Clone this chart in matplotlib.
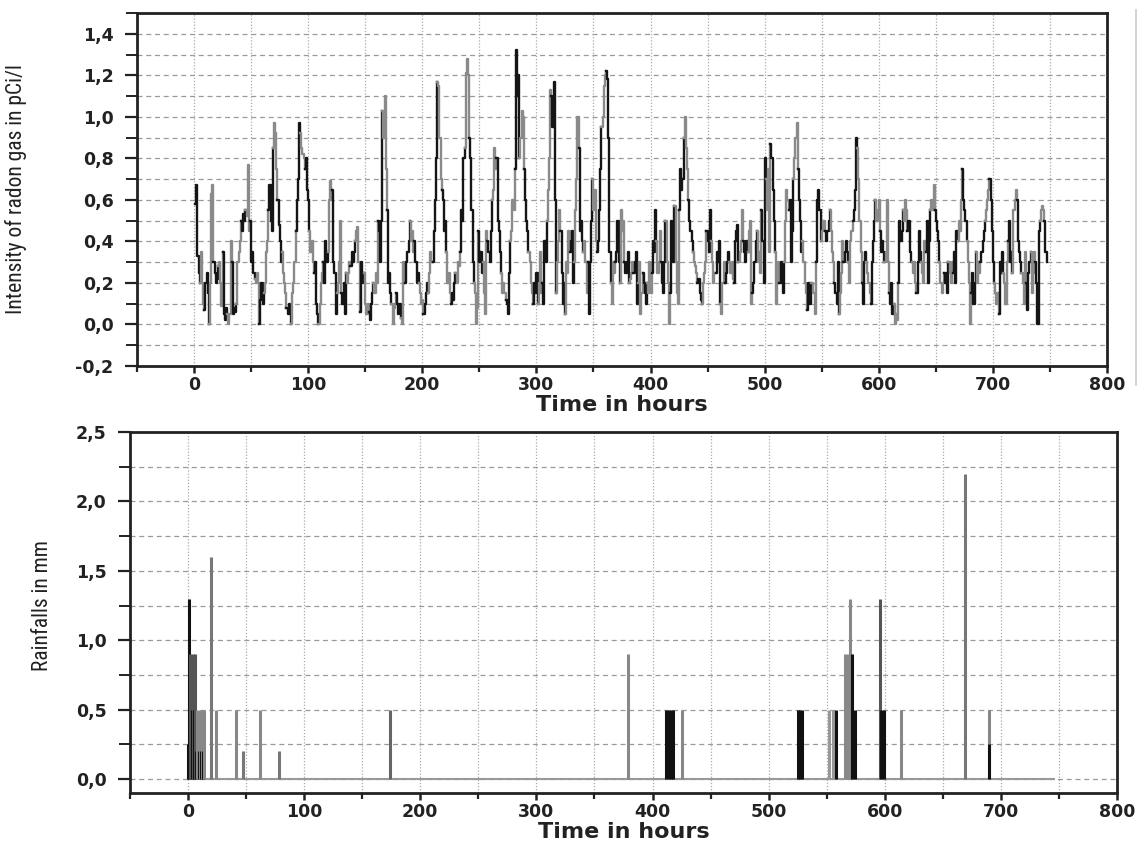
import numpy as np
import matplotlib
matplotlib.use("Agg")
import matplotlib.pyplot as plt
from matplotlib.ticker import MultipleLocator, FuncFormatter
from matplotlib.lines import Line2D

# ---------------- data ----------------
radon_start_hour = 1
radon = [
    0.58, 0.67, 0.33, 0.25, 0.2, 0.35, 0.2, 0.1, 0.07, 0.2,
    0.25, 0.15, 0.0, 0.2, 0.63, 0.67, 0.3, 0.25, 0.2, 0.22,
    0.28, 0.3, 0.2, 0.09, 0.35, 0.05, 0.02, 0.08, 0.05, 0.0,
    0.05, 0.4, 0.3, 0.05, 0.08, 0.06, 0.1, 0.3, 0.35, 0.4,
    0.5, 0.45, 0.53, 0.5, 0.55, 0.52, 0.77, 0.45, 0.5, 0.3,
    0.35, 0.25, 0.22, 0.2, 0.25, 0.2, 0.0, 0.12, 0.2, 0.1,
    0.15, 0.2, 0.35, 0.4, 0.55, 0.67, 0.5, 0.45, 0.85, 0.97,
    0.92, 0.75, 0.6, 0.48, 0.4, 0.3, 0.35, 0.25, 0.2, 0.15,
    0.08, 0.05, 0.1, 0.05, 0.0, 0.15, 0.2, 0.3, 0.45, 0.6,
    0.7, 0.97, 0.92, 0.85, 0.82, 0.8, 0.75, 0.8, 0.65, 0.6,
    0.45, 0.35, 0.4, 0.3, 0.25, 0.3, 0.1, 0.05, 0.0, 0.1,
    0.2, 0.25, 0.3, 0.2, 0.4, 0.3, 0.35, 0.6, 0.69, 0.6,
    0.65, 0.3, 0.25, 0.05, 0.15, 0.2, 0.3, 0.5, 0.15, 0.1,
    0.2, 0.05, 0.25, 0.2, 0.25, 0.3, 0.28, 0.35, 0.3, 0.35,
    0.4, 0.45, 0.47, 0.3, 0.06, 0.3, 0.25, 0.2, 0.25, 0.1,
    0.05, 0.1, 0.06, 0.02, 0.1, 0.15, 0.2, 0.15, 0.25, 0.2,
    0.5, 0.45, 0.3, 0.5, 1.03, 0.9, 1.1, 0.75, 0.55, 0.2,
    0.25, 0.15, 0.1, 0.0, 0.08, 0.1, 0.15, 0.1, 0.05, 0.1,
    0.03, 0.0, 0.3, 0.25, 0.2, 0.3, 0.35, 0.4, 0.5, 0.4,
    0.45, 0.35, 0.4, 0.3, 0.2, 0.25, 0.2, 0.15, 0.1, 0.12,
    0.05, 0.1, 0.15, 0.2, 0.15, 0.25, 0.35, 0.3, 0.3, 0.45,
    0.6, 0.8, 1.17, 1.15, 0.9, 0.7, 0.65, 0.6, 0.45, 0.5,
    0.35, 0.2, 0.25, 0.15, 0.1, 0.15, 0.12, 0.2, 0.25, 0.2,
    0.3, 0.28, 0.35, 0.55, 0.5, 0.8, 0.85, 1.21, 1.28, 1.2,
    0.9, 0.8, 0.55, 0.3, 0.2, 0.15, 0.0, 0.08, 0.45, 0.3,
    0.35, 0.25, 0.3, 0.15, 0.05, 0.45, 0.4, 0.35, 0.3, 0.45,
    0.6, 0.65, 0.85, 0.75, 0.8, 0.5, 0.45, 0.35, 0.25, 0.15,
    0.2, 0.15, 0.12, 0.1, 0.05, 0.25, 0.4, 0.45, 0.6, 0.55,
    0.75, 1.32, 1.1, 1.2, 0.8, 0.9, 1.03, 1.0, 0.75, 0.6,
    0.5, 0.45, 0.35, 0.3, 0.2, 0.15, 0.1, 0.2, 0.15, 0.25,
    0.1, 0.2, 0.35, 0.15, 0.2, 0.1, 0.4, 0.3, 0.5, 0.65,
    0.8, 1.13, 1.1, 0.95, 1.17, 0.6, 0.15, 0.3, 0.4, 0.55,
    0.45, 0.25, 0.1, 0.2, 0.05, 0.3, 0.25, 0.45, 0.35, 0.4,
    0.45, 0.2, 0.3, 0.55, 0.7, 1.0, 0.85, 0.45, 0.5, 0.4,
    0.35, 0.4, 0.3, 0.15, 0.3, 0.05, 0.3, 0.5, 0.7, 0.55,
    0.65, 0.4, 0.35, 0.4, 0.55, 0.75, 0.95, 1.0, 1.15, 1.2,
    1.22, 1.18, 0.9, 0.35, 0.2, 0.1, 0.3, 0.25, 0.3, 0.35,
    0.5, 0.3, 0.2, 0.55, 0.45, 0.5, 0.3, 0.25, 0.3, 0.35,
    0.2, 0.22, 0.25, 0.3, 0.25, 0.3, 0.35, 0.1, 0.2, 0.3,
    0.05, 0.15, 0.25, 0.2, 0.15, 0.1, 0.2, 0.15, 0.3, 0.15,
    0.25, 0.4, 0.35, 0.55, 0.4, 0.25, 0.3, 0.45, 0.3, 0.2,
    0.15, 0.3, 0.5, 0.3, 0.2, 0.0, 0.15, 0.5, 0.4, 0.3,
    0.57, 0.3, 0.15, 0.1, 0.55, 0.75, 0.65, 0.7, 0.9, 1.0,
    0.85, 0.75, 0.6, 0.5, 0.45, 0.4, 0.35, 0.3, 0.28, 0.25,
    0.2, 0.22, 0.15, 0.12, 0.1, 0.2, 0.25, 0.3, 0.45, 0.4,
    0.35, 0.55, 0.4, 0.3, 0.2, 0.25, 0.25, 0.35, 0.3, 0.4,
    0.1, 0.05, 0.2, 0.3, 0.2, 0.25, 0.3, 0.35, 0.3, 0.25,
    0.3, 0.22, 0.2, 0.4, 0.45, 0.48, 0.3, 0.35, 0.4, 0.55,
    0.4, 0.35, 0.3, 0.4, 0.35, 0.45, 0.5, 0.1, 0.15, 0.2,
    0.3, 0.4, 0.45, 0.3, 0.35, 0.25, 0.55, 0.4, 0.2, 0.8,
    0.7, 0.55, 0.75, 0.35, 0.87, 0.8, 0.65, 0.5, 0.35, 0.1,
    0.2, 0.3, 0.2, 0.3, 0.25, 0.15, 0.3, 0.5, 0.65, 0.6,
    0.55, 0.6, 0.3, 0.45, 0.7, 0.8, 0.9, 0.97, 0.75, 0.6,
    0.5, 0.35, 0.4, 0.3, 0.2, 0.15, 0.07, 0.2, 0.15, 0.1,
    0.2, 0.15, 0.15, 0.05, 0.3, 0.6, 0.65, 0.55, 0.4, 0.45,
    0.5, 0.5, 0.45, 0.4, 0.45, 0.5, 0.55, 0.45, 0.35, 0.3,
    0.2, 0.15, 0.1, 0.3, 0.05, 0.15, 0.25, 0.4, 0.3, 0.35,
    0.4, 0.35, 0.3, 0.2, 0.4, 0.45, 0.5, 0.55, 0.65, 0.9,
    0.85, 0.7, 0.5, 0.35, 0.2, 0.1, 0.3, 0.35, 0.3, 0.25,
    0.2, 0.15, 0.1, 0.3, 0.4, 0.5, 0.6, 0.5, 0.55, 0.6,
    0.45, 0.35, 0.4, 0.35, 0.3, 0.35, 0.6, 0.3, 0.15, 0.1,
    0.2, 0.05, 0.1, 0.0, 0.05, 0.02, 0.2, 0.5, 0.4, 0.45,
    0.55, 0.5, 0.6, 0.55, 0.45, 0.5, 0.35, 0.3, 0.3, 0.25,
    0.3, 0.2, 0.15, 0.3, 0.45, 0.35, 0.3, 0.25, 0.2, 0.4,
    0.35, 0.5, 0.2, 0.4, 0.55, 0.6, 0.55, 0.67, 0.55, 0.5,
    0.45, 0.4, 0.3, 0.2, 0.15, 0.2, 0.25, 0.2, 0.25, 0.15,
    0.3, 0.25, 0.2, 0.3, 0.25, 0.35, 0.2, 0.45, 0.4, 0.5,
    0.45, 0.6, 0.75, 0.6, 0.55, 0.5, 0.4, 0.3, 0.2, 0.0,
    0.15, 0.25, 0.1, 0.2, 0.35, 0.2, 0.3, 0.25, 0.3, 0.35,
    0.4, 0.45, 0.5, 0.55, 0.6, 0.65, 0.7, 0.6, 0.45, 0.3,
    0.2, 0.15, 0.1, 0.15, 0.05, 0.3, 0.25, 0.35, 0.25, 0.2,
    0.1, 0.3, 0.4, 0.5, 0.3, 0.35, 0.25, 0.55, 0.6, 0.65,
    0.6, 0.4, 0.35, 0.3, 0.25, 0.2, 0.1, 0.35, 0.2, 0.07,
    0.25, 0.3, 0.35, 0.15, 0.25, 0.35, 0.3, 0.2, 0.0, 0.45,
    0.5, 0.55, 0.57, 0.55, 0.5, 0.35, 0.3,
]

rain_hours = [0, 1, 2, 3, 4, 5, 6, 7, 8, 9, 10, 11, 12, 13, 14,
              20, 24, 41, 47, 62, 78, 174, 379, 412, 414, 416, 418, 425,
              525, 527, 529, 552, 555, 558, 566, 568, 570, 572, 574,
              596, 597, 599, 614, 669, 690, 690]
rain_mm = [0.25, 1.3, 0.9, 0.5, 0.9, 0.5, 0.9, 0.2, 0.5, 0.2, 0.5, 0.2, 0.5, 0.2, 0.5,
           1.6, 0.5, 0.5, 0.2, 0.5, 0.2, 0.5, 0.9, 0.5, 0.5, 0.5, 0.5, 0.5,
           0.5, 0.5, 0.5, 0.5, 0.5, 0.5, 0.9, 0.9, 1.3, 0.9, 0.5,
           1.3, 0.5, 0.5, 0.5, 2.2, 0.5, 0.25]
rain_colors = ['#111111', '#111111', '#555555', '#111111', '#555555', '#111111', '#555555',
               '#111111', '#888888', '#111111', '#888888', '#111111', '#888888', '#111111', '#888888',
               '#777777', '#888888', '#888888', '#777777', '#888888', '#777777', '#666666',
               '#888888', '#111111', '#111111', '#111111', '#111111', '#888888',
               '#111111', '#111111', '#111111', '#999999', '#999999', '#111111',
               '#888888', '#888888', '#888888', '#111111', '#111111',
               '#555555', '#111111', '#111111', '#888888', '#777777', '#888888', '#111111']
rain_last_hour = 746

x_ticks = [0, 100, 200, 300, 400, 500, 600, 700, 800]

# ---------------- figure ----------------
W, H = 1145, 846
fig = plt.figure(figsize=(W / 100, H / 100), dpi=100)
fig.patch.set_facecolor('white')

def frac(l, t, r, b):
    return [l / W, 1 - b / H, (r - l) / W, (b - t) / H]

ax1 = fig.add_axes(frac(137, 13, 1107, 366))
ax2 = fig.add_axes(frac(130, 432, 1117, 793))

comma = FuncFormatter(lambda v, p: ("%.1f" % v).replace('.', ','))
intfmt = FuncFormatter(lambda v, p: "%d" % round(v))

tick_font = dict(family='DejaVu Sans', weight='bold', size=12.5)
label_font = dict(family='DejaVu Sans', weight='bold', size=16)
ylab_font = dict(family=['Roboto Condensed', 'Liberation Sans Narrow', 'Liberation Sans'],
                 size=15.5)

def style(ax):
    ax.set_facecolor('white')
    for s in ax.spines.values():
        s.set_linewidth(2.0)
        s.set_color('#222222')
    ax.tick_params(axis='y', which='major', direction='out', length=9, width=1.6,
                   color='#222222', pad=8)
    ax.tick_params(axis='y', which='minor', direction='out', length=8, width=1.4,
                   color='#222222')
    ax.tick_params(axis='x', which='major', direction='out', length=5, width=1.8,
                   color='#222222', pad=2)
    ax.tick_params(axis='x', which='minor', direction='out', length=4, width=1.6,
                   color='#222222')
    ax.xaxis.set_major_locator(MultipleLocator(100))
    ax.xaxis.set_minor_locator(MultipleLocator(50))
    ax.xaxis.set_major_formatter(intfmt)
    ax.yaxis.set_major_formatter(comma)
    ax.xaxis.grid(True, which='both', linestyle=(0, (1, 1.5)), color='#aaaaaa', lw=0.9)
    ax.yaxis.grid(True, which='both', linestyle=(0, (4, 3)), color='#9a9a9a', lw=0.9)
    ax.set_axisbelow(True)
    for lab in ax.get_xticklabels() + ax.get_yticklabels():
        lab.set_fontfamily(tick_font['family'])
        lab.set_fontweight(tick_font['weight'])
        lab.set_fontsize(tick_font['size'])
        lab.set_color('#222222')
    ax.set_xlim(-50, 800)
    ax.set_xticks(x_ticks)

# --- top: radon ---
hours = np.arange(radon_start_hour, radon_start_hour + len(radon))
vals = np.array(radon)
chunk = 4
for i in range(0, len(vals) - 1, chunk):
    j = min(i + chunk + 1, len(vals))
    col = '#151515' if (i // chunk) % 2 == 0 else '#8a8a8a'
    ax1.step(hours[i:j], vals[i:j], where='post', color=col, lw=1.7, zorder=3)

ax1.yaxis.set_major_locator(MultipleLocator(0.2))
ax1.yaxis.set_minor_locator(MultipleLocator(0.1))
style(ax1)
ax1.set_ylim(-0.2, 1.5)
ax1.set_xlabel('Time in hours', labelpad=1, color='#222222', **label_font)
ax1.set_ylabel('Intensity of radon gas in pCi/l', color='#222222', **ylab_font)
ax1.yaxis.set_label_coords(-0.113, 0.5)

# --- bottom: rainfall ---
ax2.plot([rain_hours[0], rain_last_hour], [0, 0], color='#999999', lw=1.5, zorder=2)
ax2.vlines(rain_hours, 0, rain_mm, colors=rain_colors, lw=2.2, zorder=3)
ax2.yaxis.set_major_locator(MultipleLocator(0.5))
ax2.yaxis.set_minor_locator(MultipleLocator(0.25))
style(ax2)
ax2.set_ylim(-0.1, 2.5)
ax2.set_xlabel('Time in hours', labelpad=1, color='#222222', **label_font)
ax2.set_ylabel('Rainfalls in mm', color='#222222', **ylab_font)
ax2.yaxis.set_label_coords(-0.078, 0.52)

# page edge line at right of upper panel
fig.add_artist(Line2D([1136 / W, 1136 / W], [1 - 10 / H, 1 - 385 / H],
                      transform=fig.transFigure, color='#cccccc', lw=1.2))

fig.savefig('out.png', dpi=100, facecolor='white')
